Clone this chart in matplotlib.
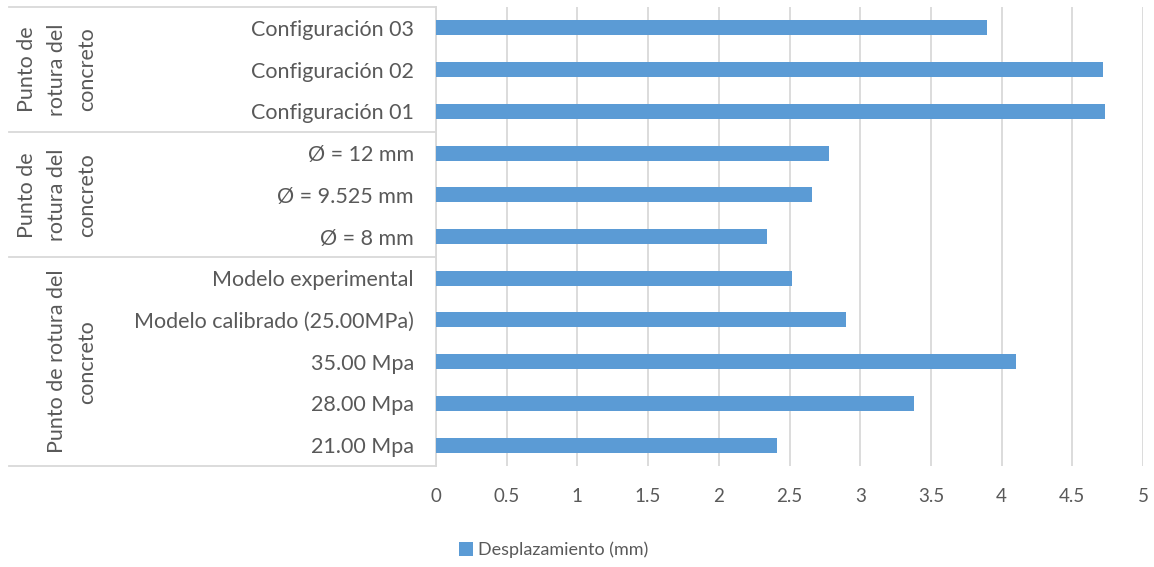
import matplotlib
matplotlib.use("Agg")
import matplotlib.pyplot as plt
import matplotlib.transforms as mtransforms
import numpy as np

# Datos (de abajo hacia arriba)
categorias = ["21.00 Mpa", "28.00 Mpa", "35.00 Mpa", "Modelo calibrado (25.00MPa)",
              "Modelo experimental", "Ø = 8 mm", "Ø = 9.525 mm", "Ø = 12 mm",
              "Configuración 01", "Configuración 02", "Configuración 03"]
desplazamiento = [2.41, 3.38, 4.10, 2.90, 2.52, 2.34, 2.66, 2.78, 4.73, 4.72, 3.90]

# Grupos: (primer índice, último índice, líneas de texto)
grupos = [
    (0, 4, ["Punto de rotura del", "concreto"]),
    (5, 7, ["Punto de", "rotura del", "concreto"]),
    (8, 10, ["Punto de", "rotura del", "concreto"]),
]
ticks_x = [0, 0.5, 1, 1.5, 2, 2.5, 3, 3.5, 4, 4.5, 5]
ticks_lbl = ["0", "0.5", "1", "1.5", "2", "2.5", "3", "3.5", "4", "4.5", "5"]

plt.rcParams['font.family'] = ['Lato', 'DejaVu Sans']
txt_color = '#595959'
line_color = '#d9d9d9'
bar_color = '#5B9BD5'

W, H = 1154, 567
fig = plt.figure(figsize=(W / 100, H / 100), dpi=100)
ax = fig.add_axes([436 / W, 1 - 466 / H, (1143 - 436) / W, (466 - 7) / H])

y = np.arange(len(categorias))
ax.barh(y, desplazamiento, height=0.36, color=bar_color, zorder=3,
        label='Desplazamiento (mm)')

ax.set_xlim(0, 5)
ax.set_ylim(-0.5, len(categorias) - 0.5)
ax.set_xticks(ticks_x)
ax.set_xticklabels(ticks_lbl)
ax.set_yticks(y)
ax.set_yticklabels(categorias)
ax.tick_params(axis='x', length=0, pad=16, labelsize=13.5, labelcolor=txt_color)
ax.tick_params(axis='y', length=0, pad=16, labelsize=15.5, labelcolor=txt_color)
ax.grid(axis='x', color=line_color, linewidth=1.3, zorder=0)
for s in ['top', 'right', 'bottom']:
    ax.spines[s].set_visible(False)
ax.spines['left'].set_color(line_color)
ax.spines['left'].set_linewidth(1.3)

# Líneas de la tabla de categorías
trans = mtransforms.blended_transform_factory(fig.transFigure, ax.transData)
for yb in [-0.5, 4.5, 7.5, 10.5]:
    ax.plot([9 / W, 436 / W], [yb, yb], transform=trans, color=line_color,
            linewidth=1.3, clip_on=False)

# Etiquetas de grupo (rotadas)
for ini, fin, lineas in grupos:
    yc = (ini + fin) / 2
    xs = [27, 57, 87] if len(lineas) == 3 else [57, 87]
    for xp, t in zip(xs, lineas):
        ax.text(xp / W, yc, t, transform=trans, rotation=90, ha='center',
                va='center', fontsize=15.5, color=txt_color)

fig.legend(loc='center left', bbox_to_anchor=(443 / W, 1 - 550 / H), frameon=False,
           fontsize=13, labelcolor=txt_color, handlelength=0.75, handleheight=0.75,
           handletextpad=0.3)

fig.savefig("out.png", dpi=100)
